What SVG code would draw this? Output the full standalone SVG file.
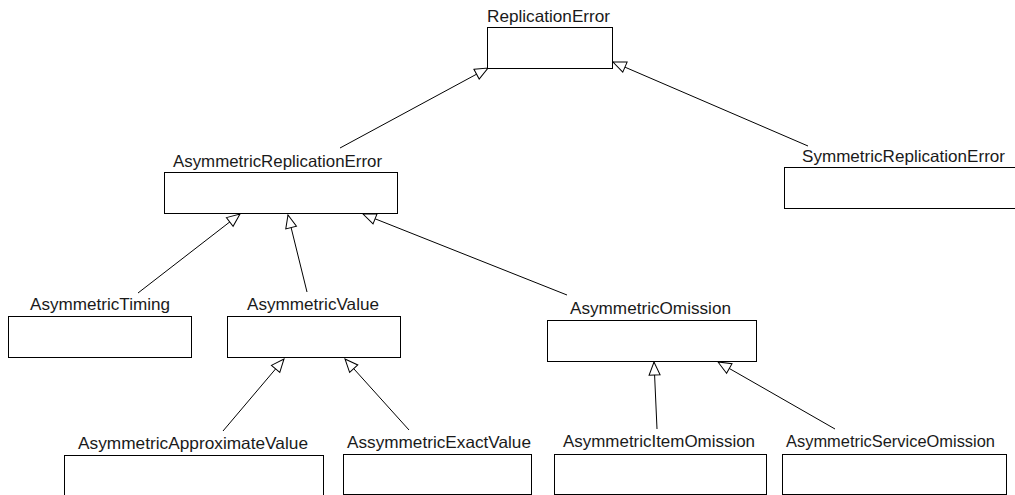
<svg xmlns="http://www.w3.org/2000/svg" width="1015" height="495" viewBox="0 0 1015 495">
<style>
.box{fill:#fff;stroke:#000;stroke-width:1}
.lbl{font-family:"Liberation Sans",Arial,sans-serif;font-size:16.5px;fill:#1a1a1a;text-anchor:middle}
.edge{stroke:#000;stroke-width:1;fill:none;marker-end:url(#tri)}
</style>
<defs>
<marker id="tri" markerUnits="userSpaceOnUse" markerWidth="16" markerHeight="14" viewBox="-1 -1 16 14" refX="13" refY="6" orient="auto">
<path d="M0,0.5 L13,6 L0,11.5 Z" fill="#fff" stroke="#000" stroke-width="1"/>
</marker>
</defs>
<rect width="1015" height="495" fill="#fff"/>
<g id="connectors">
<line class="edge" x1="340" y1="148" x2="488" y2="68"/>
<line class="edge" x1="808" y1="146" x2="613" y2="62"/>
<line class="edge" x1="138" y1="293" x2="240" y2="214"/>
<line class="edge" x1="307" y1="292" x2="288" y2="215"/>
<line class="edge" x1="567" y1="295" x2="363" y2="214"/>
<line class="edge" x1="223" y1="431" x2="284" y2="359"/>
<line class="edge" x1="409" y1="430" x2="345" y2="359"/>
<line class="edge" x1="657" y1="429" x2="654" y2="362"/>
<line class="edge" x1="835" y1="429" x2="718" y2="362"/>
</g>
<g id="ReplicationError">
<rect class="box" x="487.5" y="27.5" width="125" height="41"/>
<text class="lbl" x="548.5" y="22" textLength="123" lengthAdjust="spacingAndGlyphs">ReplicationError</text>
</g>
<g id="AsymmetricReplicationError">
<rect class="box" x="164.5" y="172.5" width="233" height="41"/>
<text class="lbl" x="277.5" y="167" textLength="209" lengthAdjust="spacingAndGlyphs">AsymmetricReplicationError</text>
</g>
<g id="SymmetricReplicationError">
<rect class="box" x="784.5" y="167.5" width="240" height="41"/>
<text class="lbl" x="903.5" y="162" textLength="203" lengthAdjust="spacingAndGlyphs">SymmetricReplicationError</text>
</g>
<g id="AsymmetricTiming">
<rect class="box" x="8.5" y="316.5" width="183" height="41"/>
<text class="lbl" x="100" y="310" textLength="140" lengthAdjust="spacingAndGlyphs">AsymmetricTiming</text>
</g>
<g id="AsymmetricValue">
<rect class="box" x="227.5" y="316.5" width="173" height="41"/>
<text class="lbl" x="313" y="310" textLength="132" lengthAdjust="spacingAndGlyphs">AsymmetricValue</text>
</g>
<g id="AsymmetricOmission">
<rect class="box" x="547.5" y="320.5" width="209" height="41"/>
<text class="lbl" x="650.5" y="314" textLength="161" lengthAdjust="spacingAndGlyphs">AsymmetricOmission</text>
</g>
<g id="AsymmetricApproximateValue">
<rect class="box" x="64.5" y="455.5" width="259" height="50"/>
<text class="lbl" x="193" y="449" textLength="230" lengthAdjust="spacingAndGlyphs">AsymmetricApproximateValue</text>
</g>
<g id="AssymmetricExactValue">
<rect class="box" x="343.5" y="454.5" width="188" height="40"/>
<text class="lbl" x="439" y="448" textLength="184" lengthAdjust="spacingAndGlyphs">AssymmetricExactValue</text>
</g>
<g id="AsymmetricItemOmission">
<rect class="box" x="554.5" y="454.5" width="212" height="40"/>
<text class="lbl" x="659" y="447" textLength="192" lengthAdjust="spacingAndGlyphs">AsymmetricItemOmission</text>
</g>
<g id="AsymmetricServiceOmission">
<rect class="box" x="782.5" y="454.5" width="224" height="40"/>
<text class="lbl" x="890.5" y="447" textLength="209" lengthAdjust="spacingAndGlyphs">AsymmetricServiceOmission</text>
</g>
</svg>
